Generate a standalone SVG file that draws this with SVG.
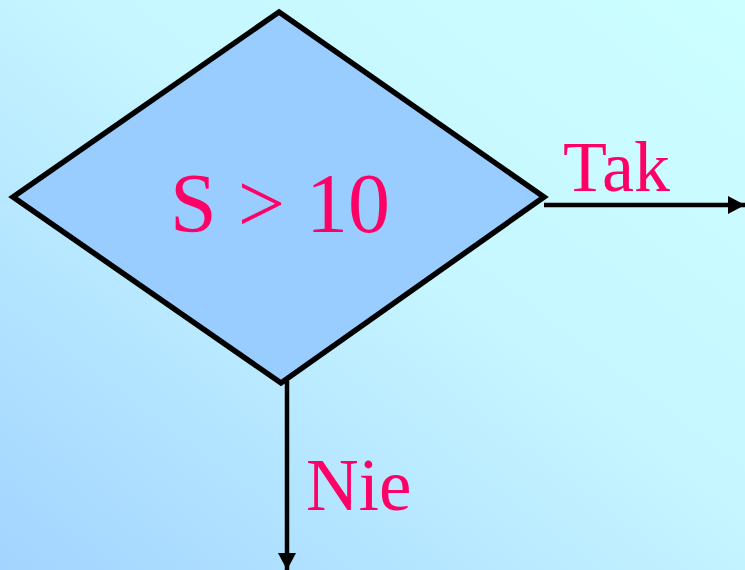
<svg xmlns="http://www.w3.org/2000/svg" width="745" height="570" viewBox="0 0 745 570">
<defs>
<linearGradient id="bg" x1="1" y1="0" x2="0" y2="1">
<stop offset="0" stop-color="#CCFFFF"/>
<stop offset="0.45" stop-color="#C6F6FF"/>
<stop offset="1" stop-color="#A2D4FF"/>
</linearGradient>
<marker id="ah" markerUnits="userSpaceOnUse" markerWidth="18" markerHeight="20" refX="17" refY="10" orient="auto" viewBox="0 0 18 20">
<path d="M0,1 L17,10 L0,19 Z" fill="#000"/>
</marker>
<style>
.lbl{font-family:"Liberation Serif","Times New Roman",serif;fill:#FF0066}
.conn{stroke:#000;stroke-width:4.5;fill:none}
</style>
</defs>
<rect width="745" height="570" fill="url(#bg)"/>
<g id="decision">
<polygon points="279,12 544,197 281,383 13,197" fill="#99CCFF" stroke="#000" stroke-width="5.5" stroke-linejoin="miter"/>
<text class="lbl" x="280" y="232" font-size="84" text-anchor="middle">S &gt; 10</text>
</g>
<g id="connectors">
<line class="conn" x1="544" y1="205" x2="745" y2="205" marker-end="url(#ah)"/>
<line class="conn" x1="287" y1="381" x2="287" y2="570" marker-end="url(#ah)"/>
<text class="lbl" x="563" y="191" font-size="72">Tak</text>
<text class="lbl" x="306" y="510" font-size="73">Nie</text>
</g>
</svg>
